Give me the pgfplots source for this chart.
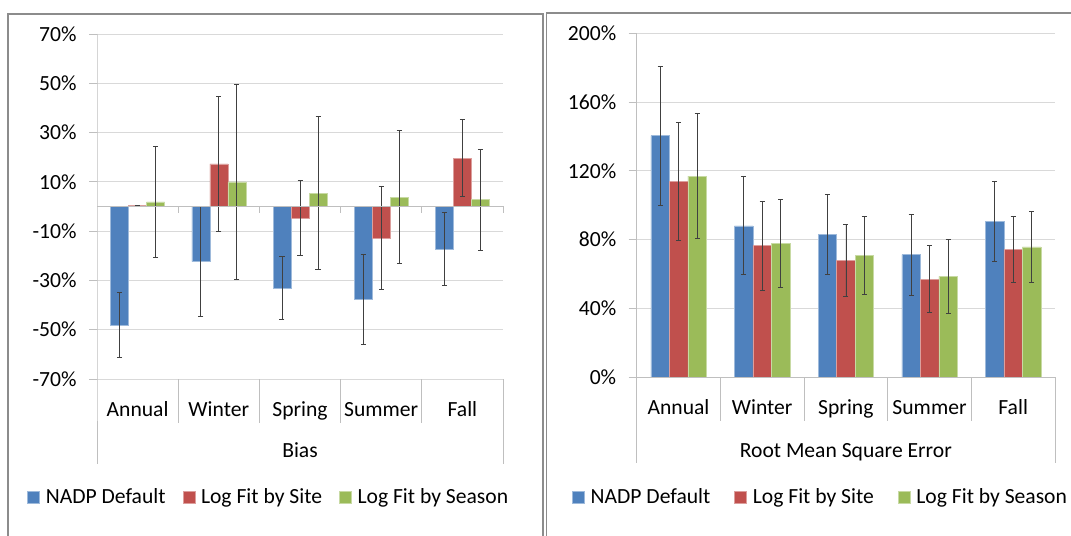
\documentclass[border=0pt]{standalone}
\usepackage{pgfplots}
\usepackage{pgfplotstable}
\pgfplotsset{compat=1.18}
\usepackage{fontspec}
\setmainfont{Carlito}

\definecolor{cblue}{HTML}{4F81BD}
\definecolor{cred}{HTML}{C0504D}
\definecolor{cgreen}{HTML}{9BBB59}
\definecolor{gridc}{HTML}{D9D9D9}
\definecolor{axc}{HTML}{BFBFBF}
\definecolor{framec}{HTML}{8C8C8C}
\newcommand\fs{\fontsize{21.6bp}{26bp}\selectfont}

% bias (%), value and half error
\pgfplotstableread{
x nadp nadpe site sitee season seasone
0 -48.0 13.2  0.4  0.2  1.9 22.4
1 -22.4 22.3 17.3 27.4 10.0 39.6
2 -33.0 12.8 -4.7 15.3  5.4 31.0
3 -37.6 18.3 -12.7 20.8 3.8 26.9
4 -17.2 14.9 19.6 15.6  2.8 20.5
}\biastable

% root mean square error (%)
\pgfplotstableread{
x nadp nadpe site sitee season seasone
0 140.5 40.3 113.7 34.3 116.9 36.3
1  88.1 28.5  76.5 25.9  77.9 25.5
2  82.9 23.2  67.8 20.9  70.9 22.7
3  71.3 23.4  57.0 19.5  58.7 21.5
4  90.7 23.0  74.4 19.2  75.8 20.5
}\rmsetable

\pgfplotsset{
  panel/.style={
    scale only axis, ybar=0pt, clip=false,
    xmin=-0.5, xmax=4.5, xtick={0,...,4},
    xticklabels={Annual,Winter,Spring,Summer,Fall},
    ymajorgrids, grid style={gridc, line width=0.8bp},
    axis line style={draw=none},
    tick align=outside, major tick length=8bp, ytick pos=left,
    ytick style={axc, line width=0.8bp}, xtick style={draw=none},
    tick label style={font=\fs, text=black},
    xticklabel style={anchor=base, yshift=-29bp},
    yticklabel style={xshift=-9bp},
    xlabel style={font=\fs, at={(axis description cs:0.5,0)}, anchor=base},
    legend style={draw=none, fill=none, font=\fs, legend columns=3,
      inner sep=0pt, anchor=west},
    legend cell align=left,
    legend image code/.code={\fill[##1] (0bp,-6bp) rectangle (12bp,6bp);
      \path (16bp,0bp);},
    error bars/y dir=both, error bars/y explicit,
    error bars/error mark=-,
    error bars/error bar style={black!75, line width=0.7bp},
    error bars/error mark options={rotate=90, black!75, mark size=2.5bp, line width=0.7bp},
  },
  bars/.style={fill=#1, draw=white!45!#1, line width=0.5bp},
}

\begin{document}
\begin{tikzpicture}
\useasboundingbox (0,0) rectangle (1071bp,536bp);
\fill[white] (0,0) rectangle (1071bp,536bp);
\draw[framec, line width=1.2bp] (8bp,-10bp) -- (8bp,522bp) -- (543bp,522bp) -- (543bp,-10bp);
\draw[framec, line width=1.2bp] (546.5bp,-10bp) -- (546.5bp,523bp) -- (1090bp,523bp);

\begin{axis}[panel,
  at={(97bp,157bp)}, anchor=south west,
  width=406bp, height=345bp, bar width=18bp,
  ymin=-70, ymax=70, ytick={-70,-50,-30,-10,10,30,50,70},
  yticklabels={-70\%,-50\%,-30\%,-10\%,10\%,30\%,50\%,70\%},
  xlabel={Bias}, xlabel style={yshift=-78bp},
  legend style={at={(axis description cs:-0.172,-0.342)},
    /tikz/every even column/.append style={column sep=15bp}},
]
\addplot[bars=cblue] table[x=x, y=nadp, y error=nadpe] {\biastable};
\addplot[bars=cred] table[x=x, y=site, y error=sitee] {\biastable};
\addplot[bars=cgreen] table[x=x, y=season, y error=seasone] {\biastable};
\legend{NADP Default, Log Fit by Site, Log Fit by Season}
\draw[axc, line width=0.8bp] (axis cs:-0.5,70) -- (axis cs:-0.5,-70) -- ++(0bp,-85bp);
\draw[axc, line width=0.8bp] (axis cs:4.5,-70) -- ++(0bp,-85bp);
\draw[axc, line width=0.8bp] (axis cs:-0.5,0) -- (axis cs:4.5,0);
\pgfplotsinvokeforeach{0.5,1.5,2.5,3.5}{
  \draw[axc, line width=0.8bp] (axis cs:#1,-70) -- ++(0bp,-44bp);
}
\pgfplotsinvokeforeach{0.5,1.5,2.5,3.5,4.5}{
  \draw[axc, line width=0.8bp] (axis cs:#1,0) -- ++(0bp,-7bp);
}
\end{axis}

\begin{axis}[panel,
  at={(636.7bp,158.7bp)}, anchor=south west,
  width=418.3bp, height=344bp, bar width=18.5bp,
  ymin=0, ymax=200, ytick={0,40,...,200},
  yticklabels={0\%,40\%,80\%,120\%,160\%,200\%},
  xlabel={Root Mean Square Error}, xlabel style={yshift=-80bp},
  legend style={at={(axis description cs:-0.1547,-0.348)},
    /tikz/every even column/.append style={column sep=22bp}},
]
\addplot[bars=cblue] table[x=x, y=nadp, y error=nadpe] {\rmsetable};
\addplot[bars=cred] table[x=x, y=site, y error=sitee] {\rmsetable};
\addplot[bars=cgreen] table[x=x, y=season, y error=seasone] {\rmsetable};
\legend{NADP Default, Log Fit by Site, Log Fit by Season}
\draw[axc, line width=0.8bp] (axis cs:-0.5,200) -- (axis cs:-0.5,0) -- ++(0bp,-86bp);
\draw[axc, line width=0.8bp] (axis cs:4.5,0) -- ++(0bp,-86bp);
\draw[axc, line width=0.8bp] (axis cs:-0.5,0) -- (axis cs:4.5,0);
\pgfplotsinvokeforeach{0.5,1.5,2.5,3.5}{
  \draw[axc, line width=0.8bp] (axis cs:#1,0) -- ++(0bp,-44bp);
}
\end{axis}
\end{tikzpicture}
\end{document}
